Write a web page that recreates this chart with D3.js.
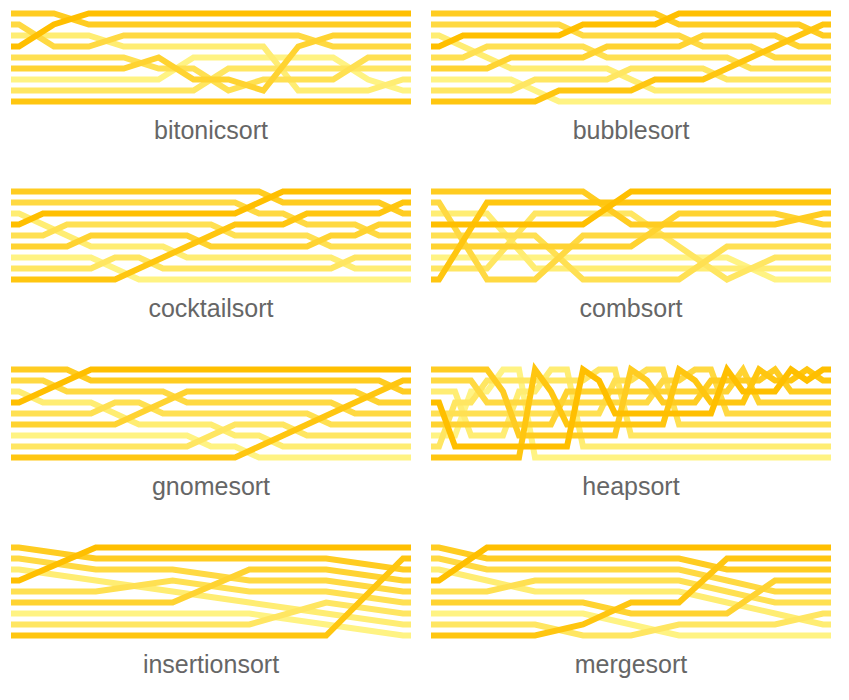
<!DOCTYPE html>
<html>
<head>
<meta charset="utf-8">
<script src="https://cdn.jsdelivr.net/npm/d3@7"></script>
<style>
  html, body { margin: 0; padding: 0; background: #fff; }
  svg { display: block; }
</style>
</head>
<body>
<svg id="chart" width="849" height="700"></svg>
<script>
// Each algorithm is a list of snapshots of the 9-item array (top row first).
// Item values run 0 (lightest) .. 8 (darkest).
const algorithmNames = ["bitonicsort", "bubblesort", "cocktailsort", "combsort",
                        "gnomesort", "heapsort", "insertionsort", "mergesort"];

const bitonicsort = [
  [6,4,1,8,3,5,0,2,7], [6,8,1,4,3,5,0,2,7], [8,6,1,4,3,5,0,2,7], [8,6,4,1,3,5,0,2,7],
  [8,6,4,1,5,3,0,2,7], [8,6,4,1,0,3,5,2,7], [8,6,4,1,0,2,5,3,7], [8,6,4,1,0,2,3,5,7],
  [8,6,4,5,0,2,3,1,7], [8,6,5,4,0,2,3,1,7], [8,6,5,4,3,2,0,1,7], [8,6,5,4,3,2,1,0,7]
];

const bubblesort = [
  [6,4,1,8,3,5,0,2,7], [6,4,8,1,3,5,0,2,7], [6,4,8,3,1,5,0,2,7], [6,4,8,3,5,1,0,2,7],
  [6,4,8,3,5,1,2,0,7], [6,4,8,3,5,1,2,7,0], [6,8,4,3,5,1,2,7,0], [6,8,4,5,3,1,2,7,0],
  [6,8,4,5,3,2,1,7,0], [6,8,4,5,3,2,7,1,0], [8,6,4,5,3,2,7,1,0], [8,6,5,4,3,2,7,1,0],
  [8,6,5,4,3,7,2,1,0], [8,6,5,4,7,3,2,1,0], [8,6,5,7,4,3,2,1,0], [8,6,7,5,4,3,2,1,0],
  [8,7,6,5,4,3,2,1,0]
];

const cocktailsort = [
  [6,4,1,8,3,5,0,2,7], [6,4,8,1,3,5,0,2,7], [6,4,8,3,1,5,0,2,7], [6,4,8,3,5,1,0,2,7],
  [6,4,8,3,5,1,2,0,7], [6,4,8,3,5,1,2,7,0], [6,4,8,3,5,1,7,2,0], [6,4,8,3,5,7,1,2,0],
  [6,4,8,3,7,5,1,2,0], [6,4,8,7,3,5,1,2,0], [6,8,4,7,3,5,1,2,0], [8,6,4,7,3,5,1,2,0],
  [8,6,7,4,3,5,1,2,0], [8,6,7,4,5,3,1,2,0], [8,6,7,4,5,3,2,1,0], [8,6,7,5,4,3,2,1,0],
  [8,7,6,5,4,3,2,1,0]
];

const combsort = [
  [6,4,1,8,3,5,0,2,7], [6,7,1,8,3,5,0,2,4], [6,7,2,8,3,5,0,1,4], [6,7,2,8,4,5,0,1,3],
  [8,7,2,6,4,5,0,1,3], [8,7,5,6,4,2,0,1,3], [8,7,5,6,4,3,0,1,2], [8,7,5,6,4,3,2,1,0],
  [8,7,6,5,4,3,2,1,0]
];

const gnomesort = [
  [6,4,1,8,3,5,0,2,7], [6,4,8,1,3,5,0,2,7], [6,8,4,1,3,5,0,2,7], [8,6,4,1,3,5,0,2,7],
  [8,6,4,3,1,5,0,2,7], [8,6,4,3,5,1,0,2,7], [8,6,4,5,3,1,0,2,7], [8,6,5,4,3,1,0,2,7],
  [8,6,5,4,3,1,2,0,7], [8,6,5,4,3,2,1,0,7], [8,6,5,4,3,2,1,7,0], [8,6,5,4,3,2,7,1,0],
  [8,6,5,4,3,7,2,1,0], [8,6,5,4,7,3,2,1,0], [8,6,5,7,4,3,2,1,0], [8,6,7,5,4,3,2,1,0],
  [8,7,6,5,4,3,2,1,0]
];

const heapsort = [
  [6,4,1,8,3,5,0,2,7], [6,4,1,2,3,5,0,8,7], [6,4,0,2,3,5,1,8,7], [6,2,0,4,3,5,1,8,7],
  [0,2,6,4,3,5,1,8,7], [0,2,1,4,3,5,6,8,7], [7,2,1,4,3,5,6,8,0], [1,2,7,4,3,5,6,8,0],
  [1,2,5,4,3,7,6,8,0], [8,2,5,4,3,7,6,1,0], [2,8,5,4,3,7,6,1,0], [2,3,5,4,8,7,6,1,0],
  [6,3,5,4,8,7,2,1,0], [3,6,5,4,8,7,2,1,0], [3,4,5,6,8,7,2,1,0], [7,4,5,6,8,3,2,1,0],
  [4,7,5,6,8,3,2,1,0], [4,6,5,7,8,3,2,1,0], [8,6,5,7,4,3,2,1,0], [5,6,8,7,4,3,2,1,0],
  [7,6,8,5,4,3,2,1,0], [6,7,8,5,4,3,2,1,0], [8,7,6,5,4,3,2,1,0], [7,8,6,5,4,3,2,1,0],
  [8,7,6,5,4,3,2,1,0]
];

const insertionsort = [
  [6,4,1,8,3,5,0,2,7], [8,6,4,1,3,5,0,2,7], [8,6,4,3,1,5,0,2,7], [8,6,5,4,3,1,0,2,7],
  [8,6,5,4,3,2,1,0,7], [8,7,6,5,4,3,2,1,0]
];

const mergesort = [
  [6,4,1,8,3,5,0,2,7], [8,6,4,1,3,5,0,2,7], [8,6,4,3,1,5,0,2,7], [8,6,4,3,1,5,0,7,2],
  [8,6,4,3,1,7,5,0,2], [8,6,4,3,1,7,5,2,0], [8,7,6,4,3,1,5,2,0], [8,7,6,5,4,3,1,2,0],
  [8,7,6,5,4,3,2,1,0]
];

const itemValues = [0, 1, 2, 3, 4, 5, 6, 7, 8];

const runs = [bitonicsort, bubblesort, cocktailsort, combsort,
              gnomesort, heapsort, insertionsort, mergesort];

// ---- layout ----
const panelW = 400, colX = [11, 431], rowPitch = 178, pad = 8;

const svg = d3.select("#chart");

const color = d3.scaleLinear()
  .domain(d3.extent(itemValues))
  .range(["#fff383", "#ffbf00"])
  .interpolate(d3.interpolateRgb);

const yRow = d3.scaleLinear().domain([0, 8]).range([13.5, 101.5]);

const line = d3.line();

algorithmNames.forEach((name, k) => {
  const steps = runs[k];
  const col = k % 2, row = Math.floor(k / 2);
  const g = svg.append("g")
    .attr("transform", `translate(${colX[col]},${row * rowPitch})`);

  // snapshots sit inside a small margin; each track runs flat out to the panel edges
  const x = d3.scaleLinear().domain([0, steps.length - 1]).range([pad, panelW - pad]);

  const track = v => {
    const pts = steps.map((s, i) => [x(i), yRow(s.indexOf(v))]);
    const first = pts[0], last = pts[pts.length - 1];
    return [[0, first[1]], ...pts, [panelW, last[1]]];
  };

  g.selectAll("path.track")
    .data(itemValues)
    .join("path")
      .attr("class", "track")
      .attr("fill", "none")
      .attr("stroke", v => color(v))
      .attr("stroke-width", 6)
      .attr("stroke-linejoin", "miter")
      .attr("d", v => line(track(v)));

  g.append("text")
    .attr("x", panelW / 2)
    .attr("y", 139)
    .attr("text-anchor", "middle")
    .attr("font-family", "'Liberation Sans', Arial, Helvetica, sans-serif")
    .attr("font-size", 25)
    .attr("fill", "#666")
    .text(name);
});
</script>
</body>
</html>
